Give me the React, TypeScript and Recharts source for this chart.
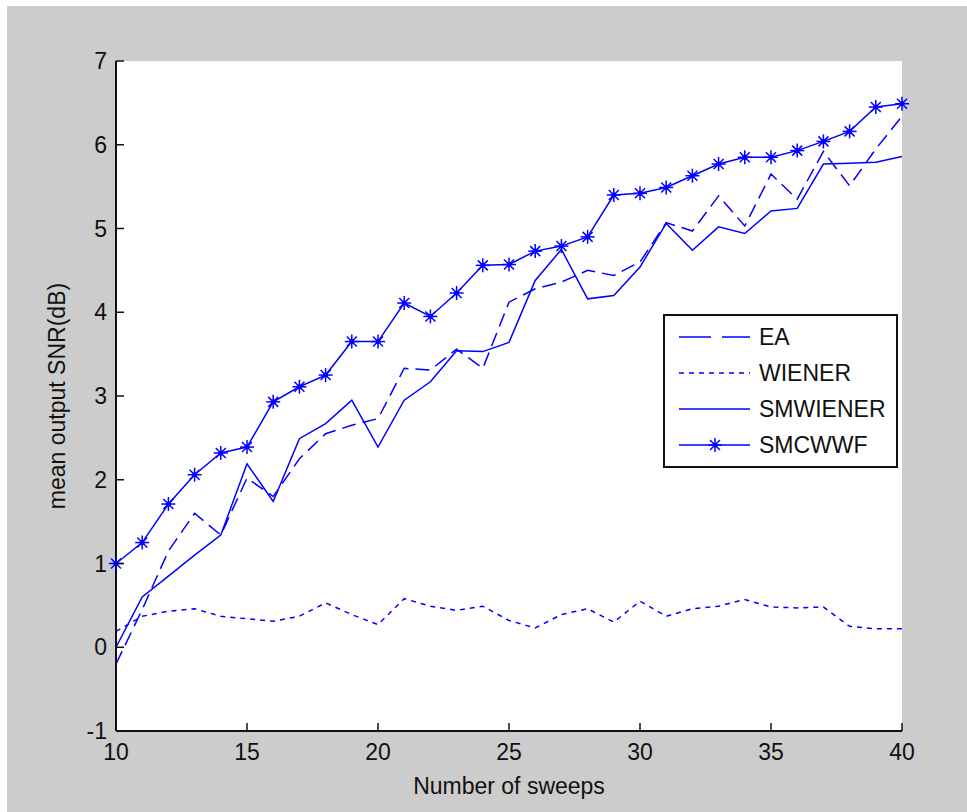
import { LineChart, Line, XAxis, YAxis, Legend } from "recharts"

const sweeps = [10, 11, 12, 13, 14, 15, 16, 17, 18, 19, 20, 21, 22, 23, 24, 25, 26, 27, 28, 29, 30, 31, 32, 33, 34, 35, 36, 37, 38, 39, 40]
const ea = [-0.2, 0.45, 1.15, 1.6, 1.34, 2.02, 1.8, 2.25, 2.55, 2.65, 2.73, 3.33, 3.31, 3.56, 3.33, 4.12, 4.28, 4.36, 4.5, 4.44, 4.6, 5.07, 4.97, 5.39, 5.03, 5.65, 5.35, 5.92, 5.51, 5.95, 6.34]
const wiener = [0.19, 0.37, 0.43, 0.46, 0.37, 0.34, 0.31, 0.37, 0.53, 0.39, 0.27, 0.58, 0.49, 0.44, 0.49, 0.32, 0.23, 0.39, 0.46, 0.3, 0.55, 0.37, 0.46, 0.49, 0.57, 0.48, 0.47, 0.48, 0.25, 0.22, 0.22]
const smwiener = [0.0, 0.6, 0.85, 1.1, 1.34, 2.19, 1.74, 2.49, 2.67, 2.95, 2.39, 2.95, 3.17, 3.54, 3.53, 3.64, 4.38, 4.75, 4.16, 4.2, 4.54, 5.06, 4.74, 5.02, 4.94, 5.21, 5.24, 5.77, 5.78, 5.79, 5.86]
const smcwwf = [1.0, 1.25, 1.71, 2.06, 2.32, 2.39, 2.93, 3.11, 3.25, 3.65, 3.65, 4.11, 3.95, 4.23, 4.56, 4.57, 4.73, 4.79, 4.9, 5.4, 5.42, 5.49, 5.63, 5.77, 5.85, 5.85, 5.93, 6.04, 6.16, 6.45, 6.49]

const xTicks = [10, 15, 20, 25, 30, 35, 40]
const yTicks = [-1, 0, 1, 2, 3, 4, 5, 6, 7]

const data = sweeps.map((s, i) => ({
  sweeps: s,
  EA: ea[i],
  WIENER: wiener[i],
  SMWIENER: smwiener[i],
  SMCWWF: smcwwf[i],
}))

const BLUE = "#0000ff"
const FONT = "'Liberation Sans', Arial, sans-serif"
const TICK = 8

const Star = (props: any) => {
  const { cx, cy } = props
  if (cx == null || cy == null) return null
  const r = 7
  const d = 5
  return (
    <g stroke={BLUE} strokeWidth={1.5}>
      <line x1={cx - r} y1={cy} x2={cx + r} y2={cy} />
      <line x1={cx} y1={cy - r} x2={cx} y2={cy + r} />
      <line x1={cx - d} y1={cy - d} x2={cx + d} y2={cy + d} />
      <line x1={cx - d} y1={cy + d} x2={cx + d} y2={cy - d} />
      <circle cx={cx} cy={cy} r={2.5} fill={BLUE} stroke="none" />
    </g>
  )
}

const BottomTick = (props: any) => {
  const { x, y, payload } = props
  return (
    <g>
      <line x1={x} y1={y} x2={x} y2={y - TICK} stroke="#111" strokeWidth={1.5} />
      <text x={x} y={y + 21} textAnchor="middle" dominantBaseline="central" fontSize={23} fill="#111" fontFamily={FONT}>
        {payload.value}
      </text>
    </g>
  )
}

const LeftTick = (props: any) => {
  const { x, y, payload } = props
  return (
    <g>
      <line x1={x} y1={y} x2={x + TICK} y2={y} stroke="#111" strokeWidth={1.5} />
      <text x={x - 9} y={y} textAnchor="end" dominantBaseline="central" fontSize={23} fill="#111" fontFamily={FONT}>
        {payload.value}
      </text>
    </g>
  )
}

const TopTick = (props: any) => {
  const { x, y } = props
  return <line x1={x} y1={y} x2={x} y2={y + TICK} stroke="#111" strokeWidth={1.5} />
}

const RightTick = (props: any) => {
  const { x, y } = props
  return <line x1={x} y1={y} x2={x - TICK} y2={y} stroke="#111" strokeWidth={1.5} />
}

const legendRows = [
  { name: "EA", dash: "32 11" },
  { name: "WIENER", dash: "5 5" },
  { name: "SMWIENER", dash: undefined },
  { name: "SMCWWF", dash: undefined, star: true },
]

const LegendBox = () => (
  <div
    style={{
      width: 235,
      height: 154,
      boxSizing: "border-box",
      border: "2px solid #111",
      background: "#fff",
      fontFamily: FONT,
    }}
  >
    <svg width={231} height={150}>
      {legendRows.map((row, i) => {
        const y = 21 + i * 36
        return (
          <g key={row.name}>
            <line x1={14} y1={y} x2={85} y2={y} stroke={BLUE} strokeWidth={1.5} strokeDasharray={row.dash} />
            {row.star && <Star cx={50} cy={y} />}
            <text x={94} y={y} dominantBaseline="central" fontSize={23} fill="#111" fontFamily={FONT}>
              {row.name}
            </text>
          </g>
        )
      })}
    </svg>
  </div>
)

export default function App() {
  return (
    <div style={{ position: "absolute", left: 0, top: 0, width: 967, height: 812, background: "#fff" }}>
      <div style={{ position: "absolute", left: 7, top: 6, width: 960, height: 806, background: "#cccccc" }} />
      <div style={{ position: "absolute", left: 0, top: 0 }}>
        <LineChart
          width={967}
          height={812}
          data={data}
          margin={{ top: 61, right: 65, bottom: 0, left: 0 }}
        >
          <rect x={116} y={61} width={786} height={670} fill="#fff" />
          <XAxis
            dataKey="sweeps"
            type="number"
            domain={[10, 40]}
            ticks={xTicks}
            interval={0}
            height={81}
            tickSize={0}
            tickMargin={0}
            tickLine={false}
            axisLine={{ stroke: "#111", strokeWidth: 2 }}
            tick={<BottomTick />}
            label={{ value: "Number of sweeps", position: "center", dy: 14, fontSize: 23, fill: "#111", fontFamily: FONT }}
          />
          <XAxis
            xAxisId="top"
            orientation="top"
            dataKey="sweeps"
            type="number"
            domain={[10, 40]}
            ticks={xTicks}
            interval={0}
            height={0}
            tickSize={0}
            tickMargin={0}
            tickLine={false}
            axisLine={{ stroke: "#111", strokeWidth: 2 }}
            tick={<TopTick />}
          />
          <YAxis
            type="number"
            domain={[-1, 7]}
            ticks={yTicks}
            interval={0}
            width={116}
            tickSize={0}
            tickMargin={0}
            tickLine={false}
            axisLine={{ stroke: "#111", strokeWidth: 2 }}
            tick={<LeftTick />}
            label={{ value: "mean output SNR(dB)", angle: -90, position: "center", dx: -1, fontSize: 23, fill: "#111", fontFamily: FONT }}
          />
          <YAxis
            yAxisId="right"
            orientation="right"
            type="number"
            domain={[-1, 7]}
            ticks={yTicks}
            interval={0}
            width={0}
            tickSize={0}
            tickMargin={0}
            tickLine={false}
            axisLine={{ stroke: "#111", strokeWidth: 2 }}
            tick={<RightTick />}
          />
          <Line dataKey="EA" stroke={BLUE} strokeWidth={1.5} strokeDasharray="14 7" dot={false} isAnimationActive={false} />
          <Line dataKey="WIENER" stroke={BLUE} strokeWidth={1.5} strokeDasharray="5 5" dot={false} isAnimationActive={false} />
          <Line dataKey="SMWIENER" stroke={BLUE} strokeWidth={1.5} dot={false} isAnimationActive={false} />
          <Line dataKey="SMCWWF" stroke={BLUE} strokeWidth={1.5} dot={<Star />} isAnimationActive={false} />
          <Legend
            layout="vertical"
            align="center"
            verticalAlign="middle"
            wrapperStyle={{ left: 663, top: 314, width: 235, height: 154 }}
            content={() => <LegendBox />}
          />
        </LineChart>
      </div>
    </div>
  )
}
